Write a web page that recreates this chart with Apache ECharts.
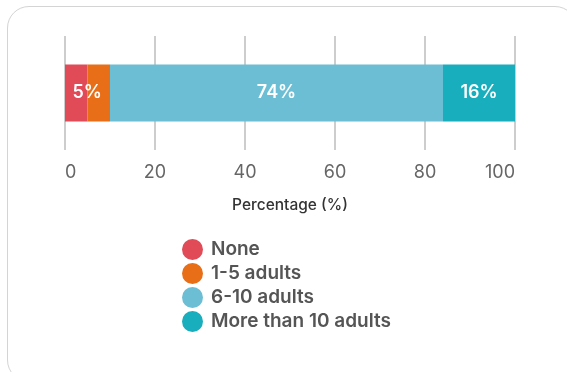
<!DOCTYPE html>
<html>
<head>
<meta charset="utf-8">
<script src="https://cdn.jsdelivr.net/npm/echarts@6/dist/echarts.min.js"></script>
<style>
  html, body { margin: 0; padding: 0; background: #fff; }
  #frame {
    position: absolute; left: 7px; top: 6px; width: 570px; height: 376px;
    border: 1.5px solid #d4d4d4; border-radius: 22px; box-sizing: border-box;
  }
  #chart { position: absolute; left: 0; top: 0; width: 567px; height: 372px; }
</style>
</head>
<body>
<div id="frame"></div>
<div id="chart"></div>
<script>
var categories = ['Share'];
var seriesNames = ['None', '1-5 adults', '6-10 adults', 'More than 10 adults'];
var seriesValues = [5, 5, 74, 16];
var shownLabels = [true, false, true, true];
var colors = ['#e04b57', '#e86e17', '#6cbed4', '#18aebd'];
var xTicks = [0, 20, 40, 60, 80, 100];

var fontFam = 'Inter, "Liberation Sans", sans-serif';
var chart = echarts.init(document.getElementById('chart'));

var series = seriesNames.map(function (name, i) {
  return {
    name: name,
    type: 'bar',
    stack: 'total',
    barWidth: 57,
    data: [seriesValues[i]],
    itemStyle: { color: colors[i] },
    label: {
      show: shownLabels[i],
      position: 'inside',
      offset: i === 0 ? [11, 0] : [0, 0],
      formatter: '{c}%',
      color: '#fff',
      fontSize: 18,
      fontWeight: 600,
      fontFamily: fontFam
    },
    emphasis: { disabled: true }
  };
});

chart.setOption({
  animation: false,
  legend: {
    orient: 'vertical',
    left: 182,
    top: 239,
    padding: 0,
    icon: 'circle',
    itemWidth: 21,
    itemHeight: 21,
    itemGap: 3,
    data: seriesNames,
    textStyle: { color: '#555', fontSize: 19, fontWeight: 600, fontFamily: fontFam, padding: [0, 0, 0, 3] }
  },
  grid: { left: 65, right: 52, top: 36, bottom: 222 },
  xAxis: {
    type: 'value',
    min: xTicks[0],
    max: xTicks[xTicks.length - 1],
    interval: 20,
    name: 'Percentage (%)',
    nameLocation: 'middle',
    nameGap: 47,
    nameTextStyle: { color: '#333', fontSize: 15.5, fontWeight: 500, fontFamily: fontFam },
    axisLine: { show: false },
    axisTick: { show: false },
    axisLabel: {
      color: '#666', fontSize: 18, margin: 14, fontFamily: fontFam,
      alignMinLabel: 'left', alignMaxLabel: 'right',
      formatter: function (v) { return xTicks.indexOf(v) >= 0 ? String(v) : ''; }
    },
    splitLine: { lineStyle: { color: '#bdbdbd', width: 1.5 } }
  },
  yAxis: {
    type: 'category',
    data: categories,
    show: false
  },
  series: series
});
window.addEventListener('resize', function () { chart.resize(); });
</script>
</body>
</html>
